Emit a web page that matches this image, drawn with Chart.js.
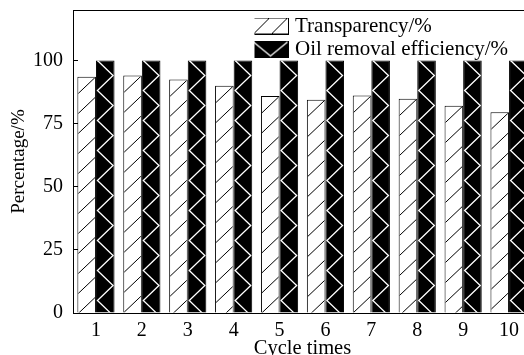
<!DOCTYPE html>
<html>
<head>
<meta charset="utf-8">
<script src="https://cdn.jsdelivr.net/npm/chart.js@4.4.1/dist/chart.umd.min.js"></script>
<style>
  html, body { margin: 0; padding: 0; background: #fff; overflow: hidden; }
  #wrap { width: 545px; height: 362px; }
</style>
</head>
<body>
<div id="wrap"><canvas id="chart" width="545" height="362"></canvas></div>
<script>
// Data: cycle number, transparency (%) and oil removal efficiency (%)
const cycles = ['1', '2', '3', '4', '5', '6', '7', '8', '9', '10'];
const transparency = [93.6, 94.1, 92.5, 90.0, 85.9, 84.5, 86.1, 84.9, 82.1, 79.5];
const oilRemoval = [100, 100, 100, 100, 100, 100, 100, 100, 100, 100];
const yTicks = [0, 25, 50, 75, 100];

const FONT = "'Liberation Serif', 'Times New Roman', serif";
const HATCH_STEP = 20;   // vertical spacing of the "/" hatch
const ZIG_STEP = 30;     // vertical period of the zigzag

// Small swatch images used as legend markers
function makeSwatch(kind) {
  const c = document.createElement('canvas');
  c.width = 37; c.height = 17;
  const g = c.getContext('2d');
  if (kind === 'hatch') {
    g.fillStyle = '#fff'; g.fillRect(0, 0, 37, 17);
    g.strokeStyle = '#000'; g.lineWidth = 1;
    g.beginPath();
    g.moveTo(2, 16); g.lineTo(17, 1);
    g.moveTo(20, 16); g.lineTo(35, 1);
    g.stroke();
    g.strokeRect(0.5, 0.5, 36, 16);
  } else {
    g.fillStyle = '#000'; g.fillRect(0, 0, 37, 17);
    g.strokeStyle = '#fff'; g.lineWidth = 1.3;
    g.beginPath();
    g.moveTo(1.5, 1.5); g.lineTo(18.5, 15.5); g.lineTo(35.5, 1.5);
    g.stroke();
  }
  return c;
}
const swatches = [makeSwatch('hatch'), makeSwatch('zigzag')];

// Fill patterns over the bars, following each bar's own geometry
const barPatterns = {
  id: 'barPatterns',
  afterDatasetsDraw(chart) {
    const ctx = chart.ctx;
    chart.getDatasetMeta(0).data.forEach(bar => {
      const { x, y, base, width } = bar.getProps(['x', 'y', 'base', 'width'], true);
      const l = x - width / 2, r = x + width / 2;
      ctx.save();
      ctx.beginPath();
      ctx.rect(l + 1, y + 1, width - 2, base - y - 1);
      ctx.clip();
      ctx.strokeStyle = '#000';
      ctx.lineWidth = 1;
      ctx.beginPath();
      for (let y0 = y; y0 < base + width; y0 += HATCH_STEP) {
        ctx.moveTo(r, y0);
        ctx.lineTo(l, y0 + width * 0.95);
      }
      ctx.stroke();
      ctx.restore();
    });
    chart.getDatasetMeta(1).data.forEach(bar => {
      const { x, y, base, width } = bar.getProps(['x', 'y', 'base', 'width'], true);
      const l = x - width / 2 + 1.5, r = x + width / 2 - 1.5;
      ctx.save();
      ctx.beginPath();
      ctx.rect(x - width / 2, y, width, base - y);
      ctx.clip();
      ctx.strokeStyle = '#fff';
      ctx.lineWidth = 1.3;
      ctx.beginPath();
      ctx.moveTo(l, y);
      for (let y0 = y; y0 < base; y0 += ZIG_STEP) {
        ctx.lineTo(r, y0 + ZIG_STEP / 2);
        ctx.lineTo(l, y0 + ZIG_STEP);
      }
      ctx.stroke();
      ctx.restore();
    });
  }
};

// Top frame line of the plot area
const frameTop = {
  id: 'frameTop',
  afterDraw(chart) {
    const { ctx, chartArea } = chart;
    ctx.save();
    ctx.strokeStyle = '#000';
    ctx.lineWidth = 1;
    ctx.beginPath();
    const yy = Math.round(chartArea.top) + 0.5;
    ctx.moveTo(chartArea.left, yy);
    ctx.lineTo(chartArea.right, yy);
    ctx.stroke();
    ctx.restore();
  }
};

// Place the legend inside the plot, near the top right
const legendPlace = {
  id: 'legendPlace',
  afterLayout(chart) {
    const lg = chart.legend;
    const area = chart.chartArea;
    lg.left = area.left + 181.5;
    lg.top = area.top + 3.5;
    lg.width = 300;
    lg.height = 60;
    lg.right = lg.left + lg.width;
    lg.bottom = lg.top + lg.height;
  }
};

new Chart(document.getElementById('chart'), {
  type: 'bar',
  data: {
    labels: cycles,
    datasets: [
      { label: 'Transparency/%', data: transparency, backgroundColor: '#fff', borderColor: '#000', borderWidth: 1 },
      { label: 'Oil removal efficiency/%', data: oilRemoval, backgroundColor: '#000', borderColor: '#000', borderWidth: 1 }
    ]
  },
  options: {
    responsive: false,
    animation: false,
    devicePixelRatio: 1,
    datasets: { bar: { categoryPercentage: 0.81, barPercentage: 1.0 } },
    layout: { padding: { left: 0, right: 13, top: 10, bottom: 0 } },
    plugins: {
      tooltip: { enabled: false },
      legend: {
        position: 'chartArea',
        align: 'start',
        labels: {
          usePointStyle: true,
          pointStyleWidth: 28,
          boxHeight: 17,
          padding: 2,
          color: '#000',
          font: { family: FONT, size: 21, lineHeight: 1 },
          generateLabels(chart) {
            return chart.data.datasets.map((ds, i) => ({
              text: ds.label,
              pointStyle: swatches[i],
              fillStyle: '#000',
              strokeStyle: '#000',
              lineWidth: 0,
              hidden: false,
              datasetIndex: i,
              fontColor: '#000'
            }));
          }
        }
      }
    },
    scales: {
      x: {
        grid: { display: false },
        border: { display: true, color: '#000', width: 1 },
        ticks: { color: '#000', font: { family: FONT, size: 20 }, padding: -2, maxRotation: 0 },
        title: { display: true, text: 'Cycle times', color: '#000', font: { family: FONT, size: 20.5 }, padding: { top: 0, bottom: 1 } },
        afterFit(scale) {
          scale.height = 49;
          scale.paddingLeft = 0;
          scale.paddingRight = 0;
        }
      },
      y: {
        min: 0,
        max: 120,
        afterBuildTicks(scale) { scale.ticks = yTicks.map(v => ({ value: v })); },
        grid: { display: true, drawOnChartArea: false, drawTicks: true, tickLength: -5, color: '#000' },
        border: { display: true, color: '#000', width: 1 },
        ticks: { color: '#000', font: { family: FONT, size: 20 }, padding: 15 },
        title: { display: true, text: 'Percentage/%', color: '#000', font: { family: FONT, size: 19 }, padding: { top: 8, bottom: 0 } },
        afterFit(scale) {
          scale.width = 73;
          scale.paddingTop = 0;
          scale.paddingBottom = 0;
        }
      }
    }
  },
  plugins: [legendPlace, barPatterns, frameTop]
});
</script>
</body>
</html>
